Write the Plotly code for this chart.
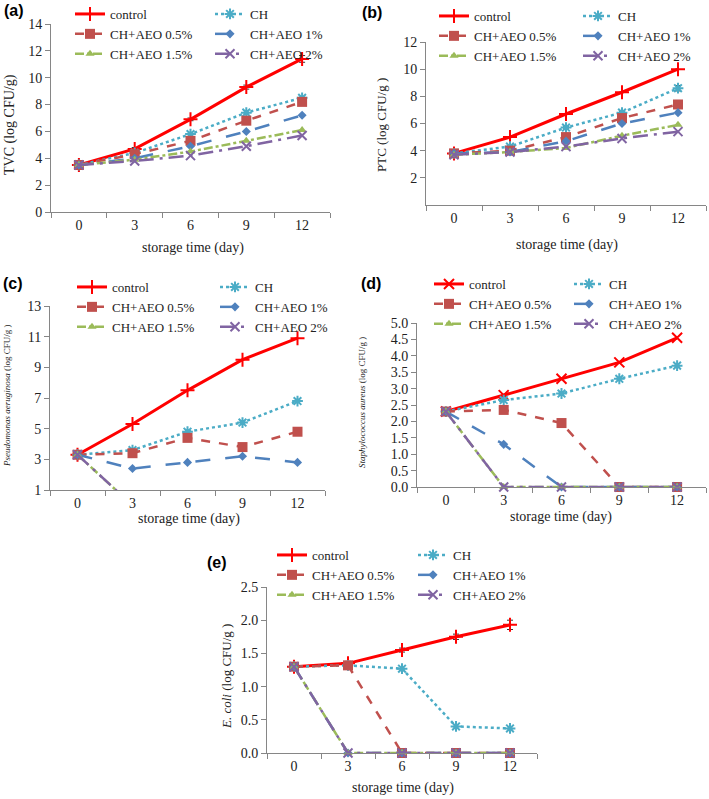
import plotly.graph_objects as go

days = ["0", "3", "6", "9", "12"]
names = ["control", "CH", "CH+AEO 0.5%", "CH+AEO 1%", "CH+AEO 1.5%", "CH+AEO 2%"]

# (a) total viable count, rows follow `names`
tvc = [
    [3.5, 4.7, 6.9, 9.3, 11.4],
    [3.5, 4.4, 5.8, 7.4, 8.5],
    [3.5, 4.3, 5.3, 6.8, 8.2],
    [3.5, 4.0, 4.9, 6.0, 7.2],
    [3.5, 3.9, 4.5, 5.3, 6.1],
    [3.5, 3.8, 4.2, 4.9, 5.7],
]
tvc_err = [0.05, 0.1, 0.1, 0.15, 0.25]

# (b) psychrotrophic count
ptc = [
    [3.8, 5.0, 6.7, 8.3, 10.0],
    [3.8, 4.3, 5.7, 6.8, 8.6],
    [3.8, 4.0, 5.0, 6.4, 7.4],
    [3.8, 3.9, 4.7, 6.0, 6.8],
    [3.7, 3.9, 4.2, 5.1, 5.9],
    [3.7, 3.9, 4.3, 4.9, 5.4],
]
ptc_err = [0.05, 0.1, 0.1, 0.1, 0.2]

# (c) Pseudomonas aeruginosa
pseudo = [
    [3.3, 5.3, 7.5, 9.5, 10.9],
    [3.3, 3.6, 4.8, 5.4, 6.8],
    [3.3, 3.4, 4.4, 3.8, 4.8],
    [3.3, 2.4, 2.8, 3.2, 2.8],
    [3.3, 0.0, 0.0, 0.0, 0.0],
    [3.3, 0.0, 0.0, 0.0, 0.0],
]

# (d) Staphylococcus aureus
staph = [
    [2.3, 2.8, 3.3, 3.8, 4.55],
    [2.3, 2.65, 2.85, 3.3, 3.7],
    [2.3, 2.35, 1.95, 0.0, 0.0],
    [2.3, 1.3, 0.0, 0.0, 0.0],
    [2.3, 0.0, 0.0, 0.0, 0.0],
    [2.3, 0.0, 0.0, 0.0, 0.0],
]

# (e) E. coli
ecoli = [
    [1.3, 1.35, 1.55, 1.75, 1.93],
    [1.3, 1.32, 1.27, 0.4, 0.37],
    [1.3, 1.32, 0.0, 0.0, 0.0],
    [1.3, 0.0, 0.0, 0.0, 0.0],
    [1.3, 0.0, 0.0, 0.0, 0.0],
    [1.3, 0.0, 0.0, 0.0, 0.0],
]
ecoli_err = [0.02, 0.03, 0.03, 0.04, 0.07]

W, H = 709, 799
SERIF = "Liberation Serif"
AXIS_GRAY = "#868686"
TEXT = "#222222"

colors = ["#FF0000", "#4BACC6", "#C0504D", "#4F81BD", "#9BBB59", "#8064A2"]
dashes = ["solid", "dot", "dash", "longdash", "dashdot", "longdashdot"]
symbols = ["cross-thin", "asterisk-open", "square", "diamond", "triangle-up", "x-thin"]
sizes = [10, 9, 10, 7, 8, 9]
widths = [3, 2.5, 2.5, 2.5, 2.5, 2.5]


def px(x):
    return x / W


def py(y):
    return 1 - y / H


fig = go.Figure()


def add_panel(n, values, err=None, err_series=0, clip=False, control_symbol="cross-thin"):
    ax = "" if n == 1 else str(n)
    for i, name in enumerate(names):
        sym = control_symbol if i == 0 else symbols[i]
        error = None
        if err is not None and i == err_series:
            error = dict(type="data", array=err, visible=True, color="#333333", thickness=1, width=3)
        fig.add_trace(go.Scatter(
            x=days, y=values[i], name=name, mode="lines+markers",
            xaxis="x" + ax, yaxis="y" + ax,
            legend="legend" + ax, legendgroup="p%d_%d" % (n, i % 2),
            line=dict(color=colors[i], dash=dashes[i], width=widths[i]),
            marker=dict(symbol=sym, size=sizes[i], color=colors[i],
                        line=dict(color=colors[i], width=2 if sym.endswith(("thin", "open")) else 0)),
            error_y=error,
            cliponaxis=clip,
        ))


add_panel(1, tvc, tvc_err, 0)
add_panel(2, ptc, ptc_err, 1)
add_panel(3, pseudo, clip=True)
add_panel(4, staph, control_symbol="x-thin")
add_panel(5, ecoli, ecoli_err, 0)


def x_axis(x0, x1, anchor):
    return dict(domain=[px(x0), px(x1)], anchor=anchor, type="category", range=[-0.5, 4.5],
                tickson="boundaries", ticks="outside", ticklen=5, tickcolor=AXIS_GRAY,
                showline=True, linecolor=AXIS_GRAY, showgrid=False, zeroline=False,
                tickfont=dict(family=SERIF, size=14, color=TEXT))


def y_axis(y_top, y_bottom, anchor, rng, tickvals, fmt=None):
    return dict(domain=[py(y_bottom), py(y_top)], anchor=anchor, range=rng, tickvals=tickvals,
                tickformat=fmt, ticks="outside", ticklen=5, tickcolor=AXIS_GRAY,
                showline=True, linecolor=AXIS_GRAY, showgrid=False, zeroline=False,
                tickfont=dict(family=SERIF, size=14, color=TEXT))


def legend(x, y_top, entrywidth):
    return dict(x=px(x), y=py(y_top), xanchor="left", yanchor="top", orientation="h",
                traceorder="grouped", entrywidth=entrywidth, tracegroupgap=0,
                bgcolor="rgba(0,0,0,0)", font=dict(family=SERIF, size=13, color=TEXT))


fig.update_layout(
    width=W, height=H,
    font=dict(family=SERIF, color=TEXT),
    margin=dict(l=0, r=0, t=0, b=0, autoexpand=False),
    paper_bgcolor="white", plot_bgcolor="white",
    xaxis=x_axis(51, 330, "y"),
    yaxis=y_axis(24, 212, "x", [0, 14], list(range(0, 15, 2))),
    xaxis2=x_axis(426, 706, "y2"),
    yaxis2=y_axis(42, 205, "x2", [0, 12], list(range(2, 13, 2))),
    xaxis3=x_axis(50, 325, "y3"),
    yaxis3=y_axis(306, 490, "x3", [1, 13], list(range(1, 14, 2))),
    xaxis4=x_axis(417, 706, "y4"),
    yaxis4=y_axis(323, 487, "x4", [0, 5], [k / 2 for k in range(11)], ".1f"),
    xaxis5=x_axis(267, 537, "y5"),
    yaxis5=y_axis(587, 753, "x5", [0, 2.5], [k / 2 for k in range(6)], ".1f"),
    legend=legend(70, -1, 95),
    legend2=legend(434, 1, 99),
    legend3=legend(72, 272, 98),
    legend4=legend(429, 269, 95),
    legend5=legend(272, 540, 96),
    showlegend=True,
)

annotations = []


def note(text, x, y, font, angle=0):
    annotations.append(dict(text=text, x=px(x), y=py(y), xref="paper", yref="paper",
                            xanchor="center", yanchor="middle", textangle=angle,
                            showarrow=False, font=font))


# panel letters
for label, x, y in [("(a)", 14, 10), ("(b)", 372, 12), ("(c)", 13, 283), ("(d)", 371, 284), ("(e)", 217, 562)]:
    note("<b>%s</b>" % label, x, y, dict(family="Liberation Sans", size=16, color="black"))

# x titles
for x, y in [(193, 248), (567, 245), (189, 519), (561, 517), (403, 788)]:
    note("storage time (day)", x, y, dict(family=SERIF, size=14, color=TEXT))

# y titles
for text, x, y, size in [
    ("TVC (log CFU/g)", 10, 125, 14),
    ("PTC (log CFU/g )", 382, 125, 13),
    ("<i>Pseudomonas aeruginosa</i> (log CFU/g )", 7, 396, 9),
    ("<i>Staphylococcus aureus</i> (log CFU/g )", 362, 403, 9),
    ("<i>E. coli</i> (log CFU/g )", 226, 677, 13),
]:
    note(text, x, y, dict(family=SERIF, size=size, color=TEXT), -90)

fig.update_layout(annotations=annotations)

# drop the browser's default body margin so the 709x799 figure fills the window exactly
fig.write_html("out.html", config={"displayModeBar": False},
               post_script="document.body.style.margin = '0';")
